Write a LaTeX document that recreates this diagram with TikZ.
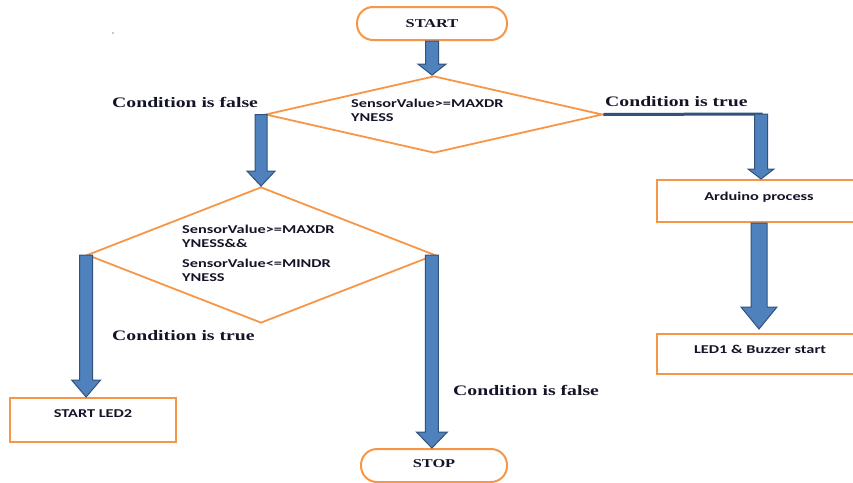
\documentclass[tikz,border=0pt]{standalone}
\usepackage{fontspec}
\usetikzlibrary{shapes.geometric,calc}
\newfontfamily\lblfont[FakeStretch=1.36]{Liberation Serif}
\newfontfamily\sansb[FakeStretch=1.36]{Carlito}
\definecolor{orng}{RGB}{247,150,70}
\definecolor{bfill}{RGB}{79,129,189}
\definecolor{bline}{RGB}{50,82,125}
\definecolor{txt}{RGB}{20,20,40}
\tikzset{
  term/.style={draw=orng, line width=2pt, rounded corners=16pt, fill=white, inner sep=0pt,
    text=txt, font=\lblfont\bfseries\fontsize{12}{14}\selectfont},
  procbox/.style={draw=orng, line width=2.2pt, inner sep=0pt, anchor=north, text=txt,
    font=\sansb\bfseries\fontsize{12}{14}\selectfont},
  decision/.style={draw=orng, line width=1.8pt, shape=diamond, inner sep=0pt},
  dtext/.style={font=\sansb\bfseries\fontsize{12}{14}\selectfont, align=left, anchor=west,
    inner sep=0pt, text=txt},
  cond/.style={font=\lblfont\bfseries\fontsize{14.5}{17}\selectfont, anchor=west, inner sep=0pt, text=txt},
  branchline/.style={draw=bline, line width=3pt},
  barrow/.style n args={3}{fill=bfill, draw=bline, line width=1pt,
    to path={let \p1=(\tikztostart), \p2=(\tikztotarget) in
      (\x1-#1,\y1) -- (\x1-#1,\y2+#3) -- (\x1-#2,\y2+#3) -- (\x1,\y2)
      -- (\x1+#2,\y2+#3) -- (\x1+#1,\y2+#3) -- (\x1+#1,\y1) -- cycle}},
}
\begin{document}
\begin{tikzpicture}[x=1pt,y=-1pt]
\path[use as bounding box] (0,0) rectangle (853,482);
\clip (0,0) rectangle (853,482);
\fill[txt] (113,33) circle (0.6pt);

% nodes
\node[term, minimum width=150pt, minimum height=33pt] (start) at (432,23.5) {START};
\node[decision, minimum width=337pt, minimum height=77pt] (d1) at (434,114.5) {};
\node[dtext] (t1) at (351,110) {SensorValue>=MAXDR\\YNESS};
\node[decision, minimum width=348pt, minimum height=136pt] (d2) at (261,255) {};
\node[dtext] (t2) at (182,253) {SensorValue>=MAXDR\\YNESS\&\&\\[6pt]SensorValue<=MINDR\\YNESS};
\node[procbox, minimum width=166pt, text height=19pt, text depth=25pt] (led2) at (93,397) {START LED2};
\node[term, minimum width=146pt, minimum height=33pt, text depth=4pt] (stop) at (434,465.5) {STOP};
\node[procbox, minimum width=204pt, text height=20pt, text depth=22pt] (ard) at (759,179) {Arduino process};
\node[procbox, minimum width=206pt, text height=19pt, text depth=21pt] (led1) at (760,333) {LED1 \& Buzzer start};
\coordinate (rc) at (761,114);

% labels
\node[cond] (cf1) at (112,102) {Condition is false};
\node[cond] (ct1) at (605,102) {Condition is true};
\node[cond] (ct2) at (112,336) {Condition is true};
\node[cond] (cf2) at (453,390) {Condition is false};

% connectors
\path[barrow={6.5pt}{14pt}{11pt}] (start.south) to (d1.north);
\path[barrow={6pt}{14pt}{15pt}] (d2.north |- d1.west) to (d2.north);
\path[barrow={6.5pt}{14.5pt}{17pt}] (d2.west) to (led2.north);
\path[barrow={6.5pt}{15.5pt}{16pt}] ([xshift=-4pt]d2.east) to (stop.north);
\draw[branchline] (d1.east) -- ([xshift=1.5pt]rc);
\path[barrow={6.5pt}{13pt}{10pt}] (rc) to (ard.north);
\path[barrow={8pt}{18pt}{22pt}] (ard.south) to ([yshift=4pt]led1.north);
\end{tikzpicture}
\end{document}
